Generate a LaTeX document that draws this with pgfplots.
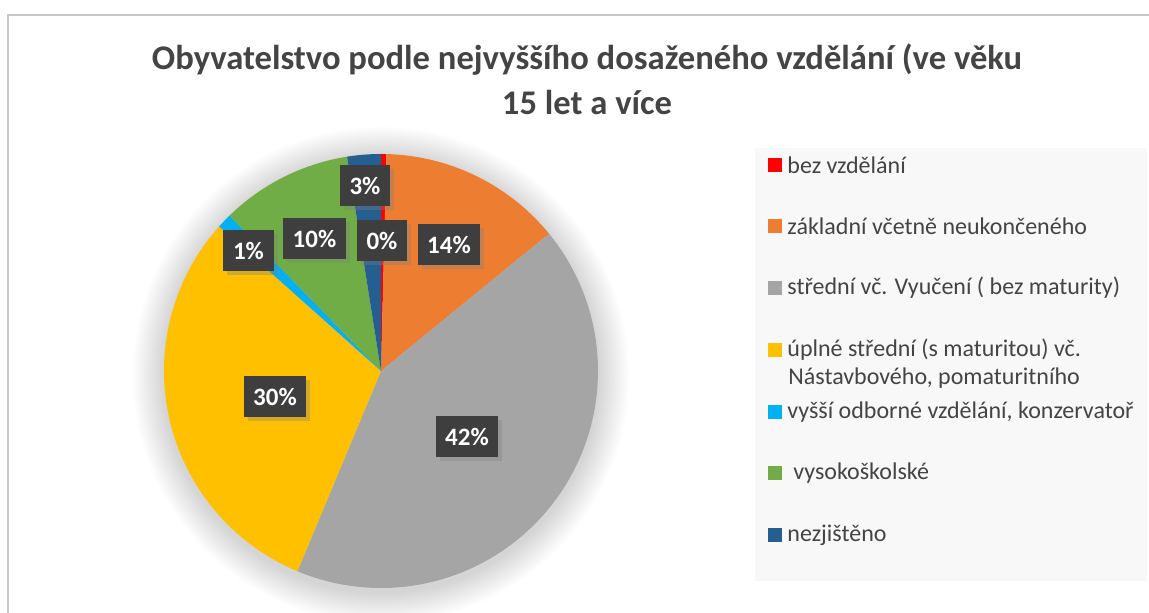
\documentclass[border=0pt]{standalone}
\usepackage{fontspec}
\setmainfont{Carlito}
\usepackage{pgfplots}
\pgfplotsset{compat=1.18}
\usepackage{pgfplotstable}
\usetikzlibrary{shadows}
\definecolor{cRed}{HTML}{FF0000}
\definecolor{cOrange}{HTML}{ED7D31}
\definecolor{cGray}{HTML}{A5A5A5}
\definecolor{cYellow}{HTML}{FFC000}
\definecolor{cCyan}{HTML}{00B0F0}
\definecolor{cGreen}{HTML}{70AD47}
\definecolor{cNavy}{HTML}{255E91}
\definecolor{txt}{HTML}{444444}
\definecolor{boxc}{HTML}{3E3E3E}
\definecolor{legbg}{HTML}{F8F8F8}
\definecolor{frame}{HTML}{C8C8C8}

\pgfplotstableread{
value color
0.4  cRed
13.7 cOrange
42.2 cGray
30.3 cYellow
1.1  cCyan
9.8  cGreen
2.5  cNavy
}\piedata

\begin{document}
\begin{tikzpicture}
\path[use as bounding box] (0,0) rectangle (574.5pt,306.5pt);
\begin{axis}[at={(0,0)}, anchor=south west, scale only axis,
  width=574.5pt, height=306.5pt,
  xmin=0, xmax=1149, ymin=0, ymax=613, y dir=reverse,
  hide axis, clip=false]
% frame
\draw[frame, line width=1pt] (axis cs:8,613) -- (axis cs:8,15.5) -- (axis cs:1149,15.5);
% title
\node[text=txt, font=\fontsize{17.3}{20}\selectfont\bfseries] at (axis cs:587,60) {Obyvatelstvo podle nejvyššího dosaženého vzdělání (ve věku};
\node[text=txt, font=\fontsize{17.3}{20}\selectfont\bfseries] at (axis cs:587,102) {15 let a více};
% soft shadow
\pgfplotsforeachungrouped \i in {1,...,14} {%
  \pgfmathsetmacro\rr{108.5+\i*1.1}%
  \edef\temp{\noexpand\fill[black, opacity=0.011] (axis cs:381,375) circle [radius=\rr pt];}%
  \temp
}
% pie slices
\gdef\cum{0}
\pgfplotsinvokeforeach{0,...,6}{%
  \pgfplotstablegetelem{#1}{value}\of\piedata \let\vv\pgfplotsretval
  \pgfplotstablegetelem{#1}{color}\of\piedata \let\cc\pgfplotsretval
  \pgfmathsetmacro\aa{3.6*\cum}
  \pgfmathsetmacro\bb{3.6*(\cum+\vv)}
  \pgfmathsetmacro\newcum{\cum+\vv}
  \global\let\cum\newcum
  \edef\temp{\noexpand\addplot[fill=\cc, draw=none, domain=\aa:\bb, samples=90]
    ({381+217*sin(x)},{371-217*cos(x)}) -- (axis cs:381,371) -- cycle;}
  \temp
}
% data labels
\tikzset{lab/.style={fill=boxc, text=white, font=\fontsize{12.5}{14}\selectfont\bfseries,
  minimum height=20.5pt, inner xsep=4.8pt, inner ysep=0pt,
  drop shadow={opacity=0.35, shadow xshift=2pt, shadow yshift=-2pt}}}
\node[lab] at (axis cs:365,186) {3\%};
\node[lab] at (axis cs:382,240.5) {0\%};
\node[lab] at (axis cs:449,244.5) {14\%};
\node[lab] at (axis cs:467,437) {42\%};
\node[lab] at (axis cs:275,396.5) {30\%};
\node[lab] at (axis cs:248.5,250.5) {1\%};
\node[lab] at (axis cs:314.5,238.5) {10\%};
% legend
\fill[legbg] (axis cs:755,148) rectangle (axis cs:1147,581);
\tikzset{lt/.style={anchor=west, text=txt, font=\fontsize{12}{14}\selectfont, inner sep=0pt}}
\pgfplotsforeachungrouped \yy/\kk in {165/cRed,226/cOrange,288/cGray,350/cYellow,412/cCyan,473/cGreen,535/cNavy} {%
  \pgfmathsetmacro\ya{\yy-7}\pgfmathsetmacro\yb{\yy+7}%
  \edef\temp{\noexpand\fill[\kk] (axis cs:768,\ya) rectangle (axis cs:782,\yb);}%
  \temp
}
\node[lt] at (axis cs:787,165) {bez vzdělání};
\node[lt] at (axis cs:787,226) {základní včetně neukončeného};
\node[lt] at (axis cs:787,288) {střední vč. Vyučení ( bez maturity)};
\node[lt] at (axis cs:787,350) {úplné střední (s maturitou) vč.};
\node[lt] at (axis cs:788,378) {Nástavbového, pomaturitního};
\node[lt] at (axis cs:787,412) {vyšší odborné vzdělání, konzervatoř};
\node[lt] at (axis cs:793,473) {vysokoškolské};
\node[lt] at (axis cs:787,535) {nezjištěno};
\end{axis}
\end{tikzpicture}
\end{document}
